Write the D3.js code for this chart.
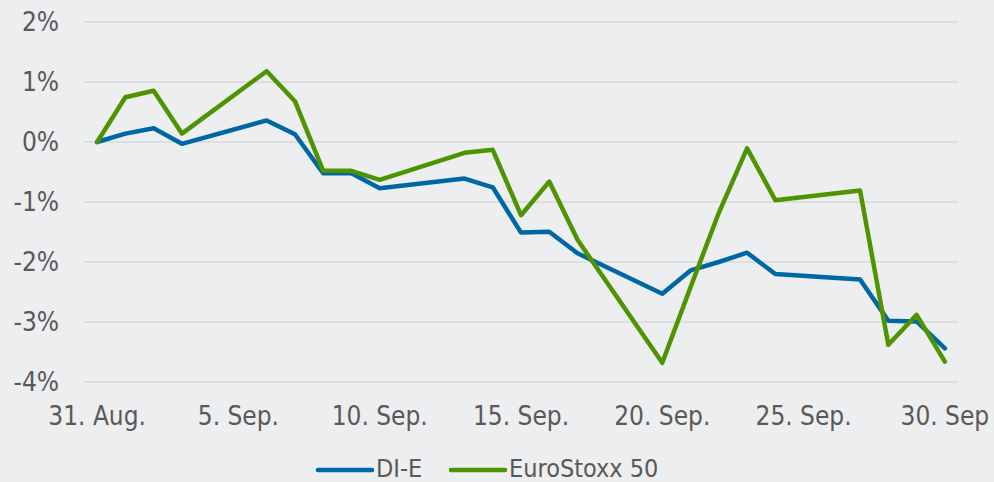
<!DOCTYPE html>
<html>
<head>
<meta charset="utf-8">
<script src="https://cdn.jsdelivr.net/npm/d3@7"></script>
<style>
  html, body { margin: 0; padding: 0; background: #edeef0; overflow: hidden; }
  text { font-family: 'DejaVu Sans Condensed', 'DejaVu Sans', sans-serif; font-stretch: condensed; fill: #595959; }
</style>
</head>
<body>
<div id="chart"></div>
<script>
var width = 994,
  height = 482;

// trading days (2021)
var dates = ['2021-08-31', '2021-09-01', '2021-09-02', '2021-09-03', '2021-09-06', '2021-09-07',
  '2021-09-08', '2021-09-09', '2021-09-10', '2021-09-13', '2021-09-14', '2021-09-15',
  '2021-09-16', '2021-09-17', '2021-09-20', '2021-09-21', '2021-09-22', '2021-09-23',
  '2021-09-24', '2021-09-27', '2021-09-28', '2021-09-29', '2021-09-30'];

// performance in %
var diE = [0, 0.14, 0.23, -0.03, 0.36, 0.13, -0.52, -0.52, -0.77, -0.61, -0.755, -1.51,
  -1.495, -1.855, -2.53, -2.14, -2.0, -1.845, -2.2, -2.29, -2.98, -2.99, -3.44];
var euroStoxx = [0, 0.745, 0.855, 0.14, 1.18, 0.68, -0.48, -0.48, -0.63, -0.18, -0.13, -1.22,
  -0.66, -1.63, -3.68, -2.42, -1.18, -0.105, -0.97, -0.81, -3.38, -2.88, -3.66];

var yTicks = [2, 1, 0, -1, -2, -3, -4];
var xTickDates = ['2021-08-31', '2021-09-05', '2021-09-10', '2021-09-15', '2021-09-20', '2021-09-25', '2021-09-30'];
var xTickLabels = ['31. Aug.', '5. Sep.', '10. Sep.', '15. Sep.', '20. Sep.', '25. Sep.', '30. Sep'];

var seriesNames = ['DI-E', 'EuroStoxx 50'];
const blue_color = '#0067a5';
const green_color = '#4e9400';

var parse = d3.utcParse('%Y-%m-%d');

var svg = d3.select('#chart')
  .append('svg')
  .attr('width', width)
  .attr('height', height);

// each day gets its own slot, points sit in the middle
var x = d3.scaleUtc()
  .domain([d3.utcHour.offset(parse('2021-08-31'), -12), d3.utcHour.offset(parse('2021-09-30'), 12)])
  .range([83, 959]);

var y = d3.scaleLinear()
  .domain([-4, 2])
  .range([382, 22]);

// gridlines
svg.append('g')
  .selectAll('line')
  .data(yTicks)
  .join('line')
  .attr('x1', 84)
  .attr('x2', 958)
  .attr('y1', d => y(d))
  .attr('y2', d => y(d))
  .attr('stroke', '#d9d9d9')
  .attr('stroke-width', 1.5);

// y axis labels
svg.append('g')
  .selectAll('text')
  .data(yTicks)
  .join('text')
  .attr('x', 59)
  .attr('y', d => y(d))
  .attr('dy', '0.36em')
  .attr('text-anchor', 'end')
  .style('font-size', '26px')
  .text(d => d + '%');

// x axis labels
svg.append('g')
  .selectAll('text')
  .data(xTickDates)
  .join('text')
  .attr('x', d => x(parse(d)))
  .attr('y', 425)
  .attr('text-anchor', 'middle')
  .style('font-size', '26px')
  .text((d, i) => xTickLabels[i]);

var line = d3.line()
  .x((d, i) => x(parse(dates[i])))
  .y(d => y(d));

svg.append('path')
  .datum(diE)
  .attr('fill', 'none')
  .attr('stroke', blue_color)
  .attr('stroke-width', 4.5)
  .attr('stroke-linejoin', 'round')
  .attr('stroke-linecap', 'round')
  .attr('d', line);

svg.append('path')
  .datum(euroStoxx)
  .attr('fill', 'none')
  .attr('stroke', green_color)
  .attr('stroke-width', 4.5)
  .attr('stroke-linejoin', 'round')
  .attr('stroke-linecap', 'round')
  .attr('d', line);

// legend
var legendX = [318, 451];
var legendColors = [blue_color, green_color];

var legend = svg.append('g')
  .selectAll('g')
  .data(seriesNames)
  .join('g')
  .attr('transform', (d, i) => 'translate(' + legendX[i] + ',470)');

legend.append('line')
  .attr('x1', 0)
  .attr('x2', 54)
  .attr('stroke', (d, i) => legendColors[i])
  .attr('stroke-width', 4.5)
  .attr('stroke-linecap', 'round');

legend.append('text')
  .attr('x', 58)
  .attr('y', 7)
  .style('font-size', '25px')
  .text(d => d);
</script>
</body>
</html>
